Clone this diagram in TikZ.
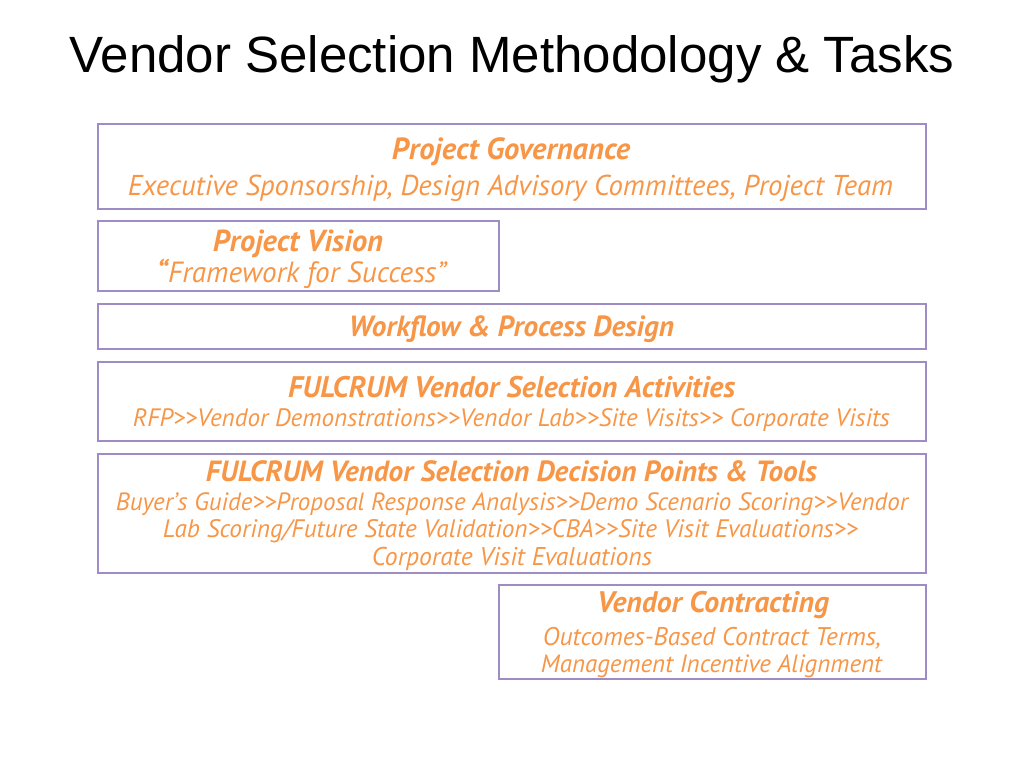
\documentclass[tikz,border=0pt]{standalone}
\usepackage{fontspec}
\usepackage{graphicx}
\setmainfont{PT Sans}
\newfontfamily\titlefont{Liberation Sans}
\definecolor{orng}{RGB}{247,150,70}
\definecolor{lav}{RGB}{160,140,196}
\newcommand\fw[2]{\resizebox{#1pt}{!}{#2}}
\tikzset{
  box/.style={draw=lav, line width=2pt, inner sep=0pt, anchor=north west},
  txt/.style={text=orng, inner sep=0pt, anchor=mid, font=\itshape},
  hd/.style={text=orng, inner sep=0pt, anchor=mid, font=\bfseries\itshape},
}
\begin{document}
\begin{tikzpicture}[x=1pt,y=-1pt]
\useasboundingbox (0,0) rectangle (1024,768);
\node[inner sep=0pt, anchor=mid] (title) at (512,70) {\fw{885}{\titlefont Vendor Selection Methodology \& Tasks}};
% boxes
\node[box, minimum width=828pt, minimum height=85pt] (b1) at (97,123) {};
\node[box, minimum width=401pt, minimum height=70pt] (b2) at (97,220) {};
\node[box, minimum width=828pt, minimum height=45pt] (b3) at (97,303) {};
\node[box, minimum width=828pt, minimum height=79pt] (b4) at (97,361) {};
\node[box, minimum width=828pt, minimum height=119pt] (b5) at (97,453) {};
\node[box, minimum width=427pt, minimum height=94pt] (b6) at (498,584) {};
% texts
\node[hd] (t1a) at (511,157) {\fw{238}{Project Governance}};
\node[txt] (t1b) at (510.5,193) {\fw{765}{Executive Sponsorship, Design Advisory Committees, Project Team}};
\node[hd] (t2a) at (298,249) {\fw{170}{Project Vision}};
\node[txt] (t2b) at (301.5,280) {\fw{289}{{\bfseries“}Framework for Success”}};
\node[hd] (t3a) at (511.5,334) {\fw{325}{Workflow \& Process Design}};
\node[hd] (t4a) at (511.5,395) {\fw{447}{FULCRUM Vendor Selection Activities}};
\node[txt] (t4b) at (511.5,424) {\fw{757}{RFP>{}>Vendor Demonstrations>{}>Vendor Lab>{}>Site Visits>{}> Corporate Visits}};
\node[hd] (t5a) at (511.5,479) {\fw{611}{FULCRUM Vendor Selection Decision Points \& Tools}};
\node[txt] (t5b) at (512,508) {\fw{792}{Buyer’s Guide>{}>Proposal Response Analysis>{}>Demo Scenario Scoring>{}>Vendor}};
\node[txt] (t5c) at (510.5,535) {\fw{695}{Lab Scoring/Future State Validation>{}>CBA>{}>Site Visit Evaluations>{}>}};
\node[txt] (t5d) at (512,563) {\fw{280}{Corporate Visit Evaluations}};
\node[hd] (t6a) at (713,610) {\fw{232}{Vendor Contracting}};
\node[txt] (t6b) at (712,643) {\fw{338}{Outcomes-Based Contract Terms,}};
\node[txt] (t6c) at (711.5,670) {\fw{341}{Management Incentive Alignment}};
\end{tikzpicture}
\end{document}
